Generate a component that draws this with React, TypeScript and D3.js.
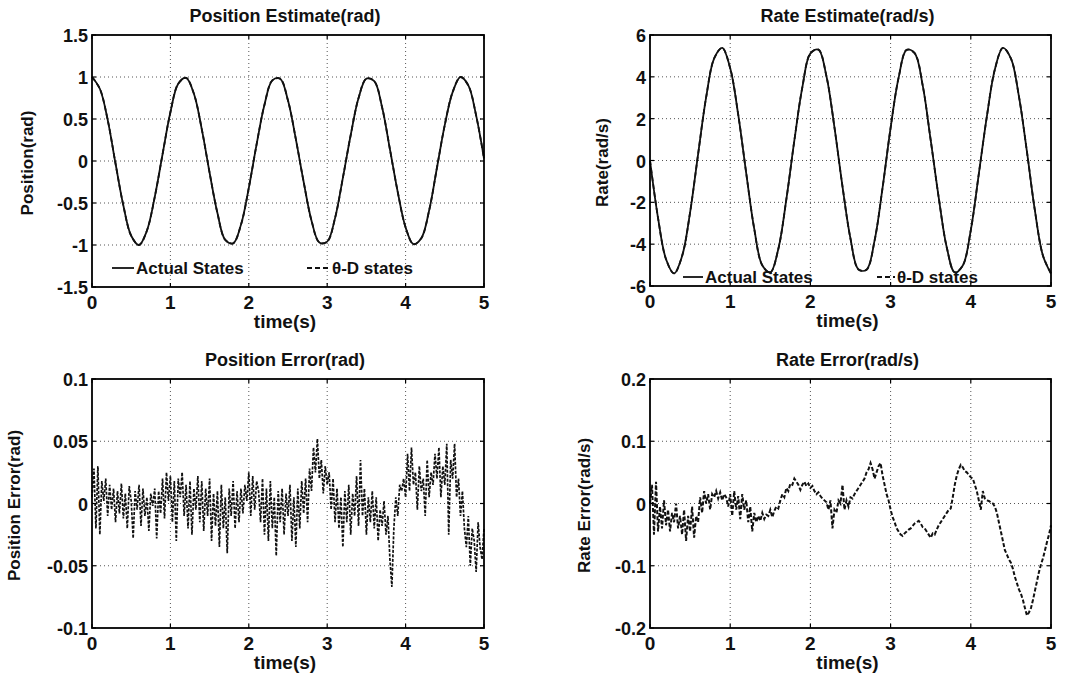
import React, { useEffect, useRef } from 'react'
import * as d3 from 'd3'

// tick values
const timeTicks = [0, 1, 2, 3, 4, 5]
const positionTicks = [-1.5, -1, -0.5, 0, 0.5, 1, 1.5]
const rateTicks = [-6, -4, -2, 0, 2, 4, 6]
const positionErrorTicks = [-0.1, -0.05, 0, 0.05, 0.1]
const rateErrorTicks = [-0.2, -0.1, 0, 0.1, 0.2]

// states sampled every 0.1 s
const stateStep = 0.1
const actualPosition = [
  1.0, 0.86, 0.49, -0.03, -0.53, -0.89, -1.0, -0.83, -0.43, 0.08,
  0.58, 0.92, 0.99, 0.8, 0.38, -0.14, -0.62, -0.94, -0.98, -0.76,
  -0.32, 0.2, 0.67, 0.96, 0.98, 0.72, 0.26, -0.25, -0.71, -0.97,
  -0.96, -0.68, -0.2, 0.31, 0.75, 0.98, 0.95, 0.64, 0.14, -0.37,
  -0.79, -0.99, -0.92, -0.59, -0.08, 0.43, 0.82, 1.0, 0.9, 0.54, 0.03,
]
const estimatedPosition = actualPosition
const actualRate = [
  0, -2.74, -4.72, -5.4, -4.57, -2.48, 0.31, 3.02, 4.88, 5.38,
  4.41, 2.19, -0.61, -3.27, -5.01, -5.35, -4.23, -1.86, 0.96, 3.51,
  5.12, 5.3, 4.03, 1.58, -1.24, -3.74, -5.21, -5.22, -3.83, -1.3,
  1.56, 3.96, 5.29, 5.13, 3.59, 0.97, -1.77, -4.15, -5.35, -5.02,
  -3.33, -0.64, 2.1, 4.35, 5.38, 4.88, 3.07, 0.42, -2.41, -4.55, -5.4,
]
const estimatedRate = actualRate

// errors sampled every 0.025 s
const errorStep = 0.025
const positionError = [
  0.005, 0.028, -0.02, 0.03, -0.025, 0.018, 0.002, 0.02,
  -0.01, 0.015, -0.005, 0.012, -0.015, 0.01, -0.008, 0.016,
  -0.012, 0.008, -0.02, 0.014, 0.002, -0.028, 0.01, -0.005,
  0.015, -0.018, 0.012, -0.01, 0.005, -0.022, 0.008, -0.002,
  0.012, -0.028, 0.01, -0.008, 0.02, -0.012, 0.025, 0.002,
  0.022, -0.015, 0.018, -0.03, 0.02, 0.005, 0.025, -0.01,
  0.015, -0.02, 0.018, -0.025, 0.012, -0.005, 0.022, -0.015,
  0.018, -0.022, 0.012, -0.01, 0.02, -0.03, 0.008, -0.018,
  0.01, -0.035, 0.015, -0.02, 0.005, -0.04, 0.012, -0.01,
  0.018, -0.02, 0.01, -0.015, 0.012, -0.008, 0.015, 0.002,
  0.025, -0.01, 0.022, -0.005, 0.018, 0.01, -0.015, 0.02,
  -0.025, 0.012, -0.03, 0.018, -0.02, 0.005, -0.042, 0.01,
  -0.015, 0.012, -0.025, 0.008, -0.01, 0.015, -0.03, 0.005,
  -0.035, 0.012, -0.02, 0.018, -0.008, 0.02, -0.015, 0.028,
  0.01, 0.045, 0.025, 0.052, 0.02, 0.035, 0.008, 0.03,
  0.015, 0.025, -0.005, 0.02, -0.015, 0.012, -0.02, 0.005,
  -0.035, 0.01, -0.015, 0.015, -0.025, 0.008, -0.01, 0.022,
  -0.018, 0.035, -0.01, 0.012, -0.025, 0.005, -0.015, 0.01,
  -0.02, 0.005, -0.03, -0.005, -0.018, 0.002, -0.025, -0.01,
  -0.045, -0.067, -0.02, 0.005, -0.01, 0.015, 0.01, 0.02,
  0.005, 0.04, 0.01, 0.045, 0.015, 0.025, -0.005, 0.03,
  0.01, 0.02, -0.01, 0.035, 0.005, 0.025, 0.015, 0.04,
  0.02, 0.045, 0.005, 0.03, 0.015, 0.048, -0.025, 0.035,
  0.02, 0.048, 0.005, 0.02, -0.01, 0.01, -0.02, -0.035,
  -0.01, -0.05, -0.02, -0.03, -0.055, -0.015, -0.035, -0.045,
  -0.02,
]
const rateError = [
  0.0, 0.03, -0.05, 0.035, -0.045, -0.005, -0.04, 0.005,
  -0.035, -0.01, -0.045, -0.015, -0.03, 0.0, -0.04, -0.02,
  -0.05, -0.01, -0.06, -0.02, -0.045, -0.005, -0.055, -0.02,
  -0.03, 0.01, -0.015, 0.02, 0.0, 0.015, -0.01, 0.015,
  0.01, 0.02, 0.008, 0.018, 0.005, 0.015, 0.01, -0.005,
  0.015, -0.02, 0.02, -0.01, 0.012, -0.025, 0.015, -0.01,
  0.005, -0.03, -0.005, -0.045, -0.015, -0.03, -0.02, -0.028,
  -0.015, -0.025, -0.018, -0.02, -0.01, -0.022, -0.012, -0.005,
  -0.008, 0.005, 0.015, 0.01, 0.025, 0.02, 0.032, 0.03,
  0.04, 0.035, 0.03, 0.022, 0.03, 0.035, 0.028, 0.032,
  0.025, 0.028, 0.02, 0.015, 0.018, 0.012, 0.008, 0.005,
  0.002, -0.01, 0.005, -0.04, -0.01, -0.015, 0.005, 0.0,
  0.03, -0.01, 0.005, -0.005, 0.01, 0.008, 0.015, 0.02,
  0.025, 0.03, 0.035, 0.04, 0.05, 0.055, 0.065, 0.055,
  0.04, 0.05, 0.06, 0.065, 0.045, 0.03, 0.015, 0.005,
  -0.01, -0.022, -0.03, -0.04, -0.045, -0.05, -0.052, -0.048,
  -0.045, -0.042, -0.04, -0.036, -0.032, -0.03, -0.028, -0.032,
  -0.038, -0.04, -0.045, -0.05, -0.055, -0.048, -0.05, -0.042,
  -0.035, -0.03, -0.025, -0.02, -0.015, -0.01, -0.008, 0.01,
  0.03, 0.045, 0.055, 0.062, 0.058, 0.052, 0.05, 0.046,
  0.042, 0.04, 0.03, 0.02, 0.005, -0.01, 0.02, 0.008,
  0.005, 0.004, 0.002, 0.0, -0.005, -0.015, -0.03, -0.045,
  -0.06, -0.075, -0.082, -0.09, -0.095, -0.105, -0.118, -0.128,
  -0.138, -0.145, -0.155, -0.168, -0.18, -0.175, -0.168, -0.155,
  -0.14, -0.125, -0.11, -0.098, -0.088, -0.075, -0.062, -0.05,
  -0.035,
]

const legendLabels = ['Actual States', 'θ-D states']

const FONT = "'Liberation Sans', Arial, sans-serif"

const panels = [
  {
    title: 'Position Estimate(rad)', ylabel: 'Position(rad)', yTicks: positionTicks,
    left: 92, right: 484, top: 35, bottom: 287, ylabelDx: -59,
    series: [
      { values: actualPosition, step: stateStep, dash: null, width: 1.8, smooth: true },
      { values: estimatedPosition, step: stateStep, dash: '5,3', width: 1.8, smooth: true },
    ],
    legend: { y: 268, items: [{ x: 112, len: 22 }, { x: 307, len: 23 }] },
  },
  {
    title: 'Rate Estimate(rad/s)', ylabel: 'Rate(rad/s)', yTicks: rateTicks,
    left: 650, right: 1051, top: 35, bottom: 286, ylabelDx: -42,
    series: [
      { values: actualRate, step: stateStep, dash: null, width: 1.8, smooth: true },
      { values: estimatedRate, step: stateStep, dash: '5,3', width: 1.8, smooth: true },
    ],
    legend: { y: 277, items: [{ x: 683, len: 20 }, { x: 877, len: 18 }] },
  },
  {
    title: 'Position Error(rad)', ylabel: 'Position Error(rad)', yTicks: positionErrorTicks,
    left: 92, right: 484, top: 379, bottom: 628, ylabelDx: -72,
    series: [{ values: positionError, step: errorStep, dash: '3,1.5', width: 1.7, smooth: false }],
  },
  {
    title: 'Rate Error(rad/s)', ylabel: 'Rate Error(rad/s)', yTicks: rateErrorTicks,
    left: 650, right: 1051, top: 379, bottom: 628, ylabelDx: -60,
    series: [{ values: rateError, step: errorStep, dash: '4,2', width: 2, smooth: false }],
  },
]

const App = () => {
  const svgRef = useRef(null)

  useEffect(() => {
    if (!svgRef.current) return
    const svg = d3.select(svgRef.current)
    svg.selectAll('*').remove()
    svg.append('rect').attr('width', 1069).attr('height', 682).attr('fill', '#fff')

    panels.forEach((p) => {
      const g = svg.append('g').attr('font-family', FONT).attr('font-weight', 'bold').attr('fill', '#111')
      const yMin = p.yTicks[0]
      const yMax = p.yTicks[p.yTicks.length - 1]
      const x = d3.scaleLinear().domain([0, 5]).range([p.left, p.right])
      const y = d3.scaleLinear().domain([yMin, yMax]).range([p.bottom, p.top])

      // grid
      g.selectAll('.gx')
        .data(timeTicks.slice(1, -1))
        .join('line')
        .attr('x1', (d) => x(d)).attr('x2', (d) => x(d))
        .attr('y1', p.top).attr('y2', p.bottom)
        .attr('stroke', '#555').attr('stroke-width', 1).attr('stroke-dasharray', '1,3')
      g.selectAll('.gy')
        .data(p.yTicks.slice(1, -1))
        .join('line')
        .attr('y1', (d) => y(d)).attr('y2', (d) => y(d))
        .attr('x1', p.left).attr('x2', p.right)
        .attr('stroke', '#555').attr('stroke-width', 1).attr('stroke-dasharray', '1,3')

      // lines
      p.series.forEach((s) => {
        const line = d3
          .line<number>()
          .x((_, i) => x(i * s.step))
          .y((d) => y(d))
          .curve(s.smooth ? d3.curveCatmullRom : d3.curveLinear)
        g.append('path')
          .attr('d', line(s.values))
          .attr('fill', 'none')
          .attr('stroke', '#111')
          .attr('stroke-width', s.width)
          .attr('stroke-dasharray', s.dash)
      })

      // frame and ticks
      g.append('rect')
        .attr('x', p.left).attr('y', p.top)
        .attr('width', p.right - p.left).attr('height', p.bottom - p.top)
        .attr('fill', 'none').attr('stroke', '#000').attr('stroke-width', 1.8)
      timeTicks.forEach((t) => {
        g.append('line').attr('x1', x(t)).attr('x2', x(t))
          .attr('y1', p.bottom).attr('y2', p.bottom - 4).attr('stroke', '#000').attr('stroke-width', 1.2)
        g.append('line').attr('x1', x(t)).attr('x2', x(t))
          .attr('y1', p.top).attr('y2', p.top + 4).attr('stroke', '#000').attr('stroke-width', 1.2)
      })
      p.yTicks.forEach((v) => {
        g.append('line').attr('x1', p.left).attr('x2', p.left + 4)
          .attr('y1', y(v)).attr('y2', y(v)).attr('stroke', '#000').attr('stroke-width', 1.2)
        g.append('line').attr('x1', p.right).attr('x2', p.right - 4)
          .attr('y1', y(v)).attr('y2', y(v)).attr('stroke', '#000').attr('stroke-width', 1.2)
      })

      // tick labels
      g.selectAll('.xt')
        .data(timeTicks)
        .join('text')
        .attr('x', (d) => x(d)).attr('y', p.bottom + 22)
        .attr('text-anchor', 'middle').attr('font-size', 19)
        .text((d) => String(d))
      g.selectAll('.yt')
        .data(p.yTicks)
        .join('text')
        .attr('x', p.left - 4).attr('y', (d) => y(d) + 7)
        .attr('text-anchor', 'end').attr('font-size', 18)
        .text((d) => String(d))

      // titles
      const cx = (p.left + p.right) / 2 - 3
      g.append('text').attr('x', cx).attr('y', p.top - 13)
        .attr('text-anchor', 'middle').attr('font-size', 18).text(p.title)
      g.append('text').attr('x', cx).attr('y', p.bottom + 41)
        .attr('text-anchor', 'middle').attr('font-size', 19).text('time(s)')
      g.append('text')
        .attr('transform', `translate(${p.left + p.ylabelDx},${(p.top + p.bottom) / 2 + 2}) rotate(-90)`)
        .attr('text-anchor', 'middle').attr('font-size', 17).text(p.ylabel)

      // legend
      if (p.legend) {
        p.legend.items.forEach((it, i) => {
          g.append('line')
            .attr('x1', it.x).attr('x2', it.x + it.len)
            .attr('y1', p.legend.y).attr('y2', p.legend.y)
            .attr('stroke', '#111').attr('stroke-width', 1.8)
            .attr('stroke-dasharray', i === 0 ? null : '5,3')
          g.append('text')
            .attr('x', it.x + it.len + 2).attr('y', p.legend.y + 6)
            .attr('font-size', 17).text(legendLabels[i])
        })
      }
    })
  }, [])

  return (
    <svg
      ref={svgRef}
      width={1069}
      height={682}
      style={{ position: 'absolute', left: 0, top: 0 }}
    ></svg>
  )
}

export default App
